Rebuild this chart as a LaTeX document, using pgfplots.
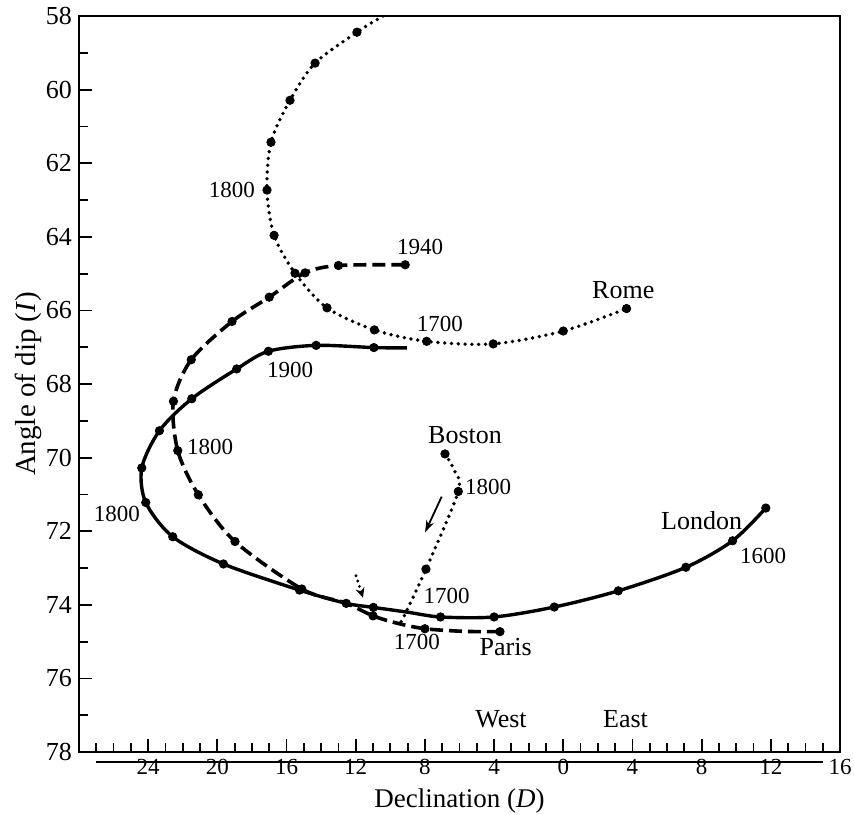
\documentclass[border=0pt]{standalone}
\usepackage{fontspec}
\setmainfont{Liberation Serif}
\usepackage{pgfplots}
\pgfplotsset{compat=1.18}
\usetikzlibrary{arrows.meta}
\newcommand{\yr}{\fontsize{11.5}{13}\selectfont}
\newcommand{\ct}{\fontsize{13}{15}\selectfont}
\begin{document}
\begin{tikzpicture}
\useasboundingbox (-39.5pt,-31pt) rectangle (387.5pt,376pt);
\begin{axis}[
  at={(0,0)}, anchor=south west,
  scale only axis, width=380.5pt, height=368pt,
  xmin=-28, xmax=16, ymin=58, ymax=78, y dir=reverse,
  axis line style={line width=1pt},
  xtick={-24,-20,...,16}, xticklabels={24,20,16,12,8,4,0,4,8,12,16},
  minor xtick={-27,-26,...,15},
  ytick={58,60,...,78}, minor ytick={59,61,...,77},
  tick align=inside,
  xtick pos=left, xticklabel pos=left, ytick pos=left, yticklabel pos=left,
  major tick length=6.5pt, minor tick length=4.5pt,
  tick style={line width=0.9pt, black},
  /pgf/number format/assume math mode=true,
  xticklabel style={font=\fontsize{11.5}{13}\selectfont},
  yticklabel style={font=\fontsize{13}{15}\selectfont},
  xlabel={Declination (\textit{D})},
  ylabel={Angle of dip (\textit{I})},
  xlabel style={font=\fontsize{13.5}{16}\selectfont},
  ylabel style={font=\fontsize{14.5}{17}\selectfont},
  ylabel shift=-5pt,
  mark size=2.1pt,
]
% London (solid)
\addplot[black, line width=1.7pt, smooth, tension=0.5] coordinates {
(11.71,71.37) (9.79,72.26) (7.09,72.98) (3.18,73.62) (-0.52,74.06)
(-4.0,74.33) (-7.1,74.33) (-9.0,74.2) (-10.98,74.07) (-12.55,73.96)
(-15.25,73.6) (-19.65,72.89) (-22.58,72.15) (-24.14,71.22) (-24.37,70.28)
(-23.35,69.27) (-21.48,68.40) (-18.88,67.59) (-17.05,67.11) (-14.29,66.95)
(-10.95,67.01) (-9.05,67.02)};
\addplot[black, only marks, mark=*] coordinates {
(11.71,71.37) (9.79,72.26) (7.09,72.98) (3.18,73.62) (-0.52,74.06)
(-4.0,74.33) (-7.1,74.33) (-10.98,74.07) (-12.55,73.96)
(-15.25,73.6) (-19.65,72.89) (-22.58,72.15) (-24.14,71.22) (-24.37,70.28)
(-23.35,69.27) (-21.48,68.40) (-18.88,67.59) (-17.05,67.11) (-14.29,66.95)
(-10.95,67.01)};
% Paris (dashed)
\addplot[black, line width=1.8pt, smooth, tension=0.5, dash pattern=on 6.5pt off 3pt] coordinates {
(-3.66,74.73) (-5.8,74.72) (-8.0,74.65) (-9.6,74.5) (-11.0,74.3) (-12.6,73.95)
(-15.12,73.57) (-18.98,72.28) (-21.1,71.01) (-22.29,69.81) (-22.54,68.47)
(-21.51,67.34) (-19.15,66.3) (-17.0,65.64) (-14.93,64.98) (-13.0,64.78) (-9.14,64.76)};
\addplot[black, only marks, mark=*] coordinates {
(-3.66,74.73) (-8.0,74.65) (-11.0,74.3)
(-15.12,73.57) (-18.98,72.28) (-21.1,71.01) (-22.29,69.81) (-22.54,68.47)
(-21.51,67.34) (-19.15,66.3) (-17.0,65.64) (-14.93,64.98) (-13.0,64.78) (-9.14,64.76)};
% Rome (dotted)
\addplot[black, line width=1.9pt, smooth, tension=0.5, line cap=round, dash pattern=on 0pt off 3.4pt] coordinates {
(-10.42,58.0) (-11.93,58.44) (-14.35,59.28) (-15.80,60.29) (-16.90,61.43)
(-17.13,62.73) (-16.72,63.96) (-15.51,64.99) (-13.66,65.93) (-10.92,66.53)
(-7.90,66.84) (-4.05,66.91) (0.0,66.56) (3.66,65.95)};
\addplot[black, only marks, mark=*] coordinates {
(-11.93,58.44) (-14.35,59.28) (-15.80,60.29) (-16.90,61.43)
(-17.13,62.73) (-16.72,63.96) (-15.51,64.99) (-13.66,65.93) (-10.92,66.53)
(-7.90,66.84) (-4.05,66.91) (0.0,66.56) (3.66,65.95)};
% Boston (dotted)
\addplot[black, line width=1.9pt, smooth, tension=0.5, line cap=round, dash pattern=on 0pt off 3.4pt] coordinates {
(-6.84,69.90) (-6.3,70.35) (-6.07,70.92) (-7.94,73.03) (-9.25,74.35) (-9.6,74.6)};
\addplot[black, only marks, mark=*] coordinates {
(-6.84,69.90) (-6.07,70.92) (-7.94,73.03)};
% annotations
\draw[line width=0.9pt, -{Stealth[length=6pt,width=4pt]}] (axis cs:-7.03,71.06) -- (axis cs:-7.99,72.03);
\draw[line width=1.6pt, line cap=round, dash pattern=on 0pt off 2.8pt, -{Stealth[length=5pt,width=4.5pt]}] (axis cs:-11.98,73.21) -- (axis cs:-11.58,73.81);
\node[font=\yr] at (axis cs:-19.16,62.73) {1800};
\node[font=\yr] at (axis cs:-8.28,64.28) {1940};
\node[font=\ct] at (axis cs:3.47,65.46) {Rome};
\node[font=\yr] at (axis cs:-7.13,66.36) {1700};
\node[font=\yr] at (axis cs:-15.80,67.63) {1900};
\node[font=\yr] at (axis cs:-20.42,69.72) {1800};
\node[font=\yr] at (axis cs:-25.81,71.53) {1800};
\node[font=\ct] at (axis cs:-5.68,69.40) {Boston};
\node[font=\yr] at (axis cs:-4.34,70.81) {1800};
\node[font=\yr] at (axis cs:-6.74,73.76) {1700};
\node[font=\yr] at (axis cs:-8.47,75.0) {1700};
\node[font=\ct] at (axis cs:-3.33,75.16) {Paris};
\node[font=\ct] at (axis cs:8.0,71.70) {London};
\node[font=\yr] at (axis cs:11.56,72.67) {1600};
\node[font=\ct] at (axis cs:-3.6,77.1) {West};
\node[font=\ct] at (axis cs:3.6,77.1) {East};
\coordinate (la) at (axis cs:-27,78);
\coordinate (lb) at (axis cs:15,78);
\end{axis}
\draw[line width=1pt] ([yshift=-5pt]la) -- ([yshift=-5pt]lb);
\end{tikzpicture}
\end{document}
